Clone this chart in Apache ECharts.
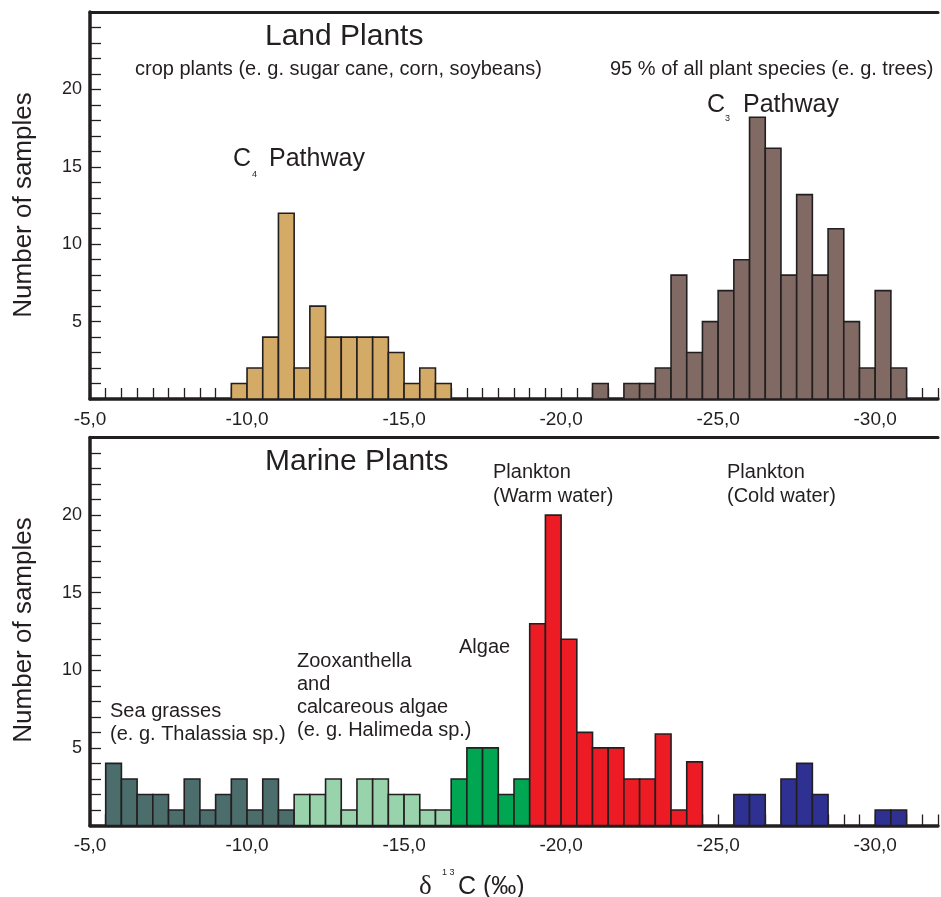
<!DOCTYPE html>
<html><head><meta charset="utf-8">
<script src="https://cdn.jsdelivr.net/npm/echarts@6/dist/echarts.min.js"></script>
<style>html,body{margin:0;padding:0;background:#fff}#c{width:941px;height:897px}</style>
</head><body><div id="c"></div>
<script>
// ---- data (bin = left edge in ‰, each bin 0.5 ‰ wide toward more negative values)
const BIN = 0.5;
const xTickLabels = [-5, -10, -15, -20, -25, -30];
const yTickLabels = [5, 10, 15, 20];

// Land plants
const c4Bins   = [-9.5,-10,-10.5,-11,-11.5,-12,-12.5,-13,-13.5,-14,-14.5,-15,-15.5,-16];
const c4Counts = [1,2,4,12,2,6,4,4,4,4,3,1,2,1];
const c3Bins   = [-21,-21.5,-22,-22.5,-23,-23.5,-24,-24.5,-25,-25.5,-26,-26.5,-27,-27.5,-28,-28.5,-29,-29.5,-30,-30.5];
const c3Counts = [1,0,1,1,2,8,3,5,7,9,18.2,16.2,8,13.2,8,11,5,2,7,2];

// Marine plants
const seaBins     = [-5.5,-6,-6.5,-7,-7.5,-8,-8.5,-9,-9.5,-10,-10.5,-11];
const seaCounts   = [4,3,2,2,1,3,1,2,3,1,3,1];
const zooBins     = [-11.5,-12,-12.5,-13,-13.5,-14,-14.5,-15,-15.5,-16];
const zooCounts   = [2,2,3,1,3,3,2,2,1,1];
const algaeBins   = [-16.5,-17,-17.5,-18,-18.5];
const algaeCounts = [3,5,5,2,3];
const warmBins    = [-19,-19.5,-20,-20.5,-21,-21.5,-22,-22.5,-23,-23.5,-24];
const warmCounts  = [13,20,12,6,5,5,3,3,5.9,1,4.1];
const coldBins    = [-25.5,-26,-27,-27.5,-28,-30,-30.5];
const coldCounts  = [2,2,3,4,2,1,1];

// ---- styling
const FONT = '"Liberation Sans", Arial, Helvetica, sans-serif';
const SERIF = '"Liberation Serif", "Times New Roman", serif';
const INK = '#231f20';

function renderBin(params, api) {
  const x0 = api.value(0), y = api.value(1);
  if (!(y > 0)) return null;
  const p0 = api.coord([x0, 0]);
  const p1 = api.coord([x0 - BIN, y]);
  return {
    type: 'rect',
    shape: { x: Math.min(p0[0], p1[0]), y: p1[1], width: Math.abs(p1[0] - p0[0]), height: p0[1] - p1[1] },
    style: { fill: api.visual('color'), stroke: INK, lineWidth: 1.6 }
  };
}
function hist(name, bins, counts, color, xi, yi) {
  return {
    type: 'custom', name, xAxisIndex: xi, yAxisIndex: yi, renderItem: renderBin,
    itemStyle: { color }, encode: { x: 0, y: 1 }, clip: false,
    data: bins.map((b, i) => [b, counts[i]]), silent: true, z: 5
  };
}

function xFmt(v) {
  const r = Math.round(v * 2) / 2;
  return xTickLabels.indexOf(r) >= 0 ? r.toFixed(1).replace('.', ',') : '';
}
function yFmt(v) { return yTickLabels.indexOf(v) >= 0 ? String(v) : ''; }

function xBottom(gi) {
  return {
    gridIndex: gi, type: 'value', inverse: true, min: -32, max: -5, interval: 0.5, position: 'bottom',
    axisLine: { show: true, onZero: false, lineStyle: { color: INK, width: 3.5 } },
    axisTick: { show: true, inside: true, length: 11, lineStyle: { color: INK, width: 1.3 } },
    axisLabel: { formatter: xFmt, fontSize: 19, color: INK, margin: 11, fontFamily: FONT, showMinLabel: true, showMaxLabel: true },
    splitLine: { show: false }
  };
}
function xTop(gi) {
  return {
    gridIndex: gi, type: 'value', inverse: true, min: -32, max: -5, position: 'top',
    axisLine: { show: true, onZero: false, lineStyle: { color: INK, width: 3 } },
    axisTick: { show: false }, axisLabel: { show: false }, splitLine: { show: false }
  };
}
function yAx(gi) {
  return {
    gridIndex: gi, type: 'value', min: 0, max: 25, interval: 1,
    axisLine: { show: true, onZero: false, lineStyle: { color: INK, width: 3.5 } },
    axisTick: { show: true, inside: true, length: 11, lineStyle: { color: INK, width: 1.3 } },
    axisLabel: { formatter: yFmt, fontSize: 18, color: INK, margin: 8, fontFamily: FONT, showMinLabel: true, showMaxLabel: true },
    splitLine: { show: false }
  };
}

function txt(x, y, text, size, extra) {
  return {
    type: 'text', x, y, silent: true, z: 20,
    style: Object.assign({ text, fontSize: size, fontFamily: FONT, fill: INK, align: 'left', verticalAlign: 'middle' }, extra || {})
  };
}

const graphics = [
  // Top panel
  txt(265, 37, 'Land Plants', 30),
  txt(135, 69, 'crop plants (e. g. sugar cane, corn, soybeans)', 20),
  txt(610, 69, '95 % of all plant species (e. g. trees)', 20),
  txt(233, 159, 'C', 25), txt(252, 175, '4', 9), txt(269, 159, 'Pathway', 25),
  txt(707, 105, 'C', 25), txt(725, 119, '3', 9), txt(743, 105, 'Pathway', 25),
  // Bottom panel
  txt(265, 462, 'Marine Plants', 30),
  txt(493, 472, 'Plankton', 20), txt(493, 496, '(Warm water)', 20),
  txt(727, 472, 'Plankton', 20), txt(727, 496, '(Cold water)', 20),
  txt(459, 647, 'Algae', 20),
  txt(297, 661, 'Zooxanthella', 20), txt(297, 684, 'and', 20),
  txt(297, 707, 'calcareous algae', 20), txt(297, 730, '(e. g. Halimeda sp.)', 20),
  txt(110, 711, 'Sea grasses', 20), txt(110, 734, '(e. g. Thalassia sp.)', 20),
  // axis titles
  txt(419, 887, 'δ', 27, { fontFamily: SERIF }), txt(442, 873, '1 3', 9), txt(458, 887, 'C (‰)', 25),
  Object.assign(txt(24, 205, 'Number of samples', 26, { align: 'center' }), { rotation: Math.PI / 2 }),
  Object.assign(txt(24, 630, 'Number of samples', 26, { align: 'center' }), { rotation: Math.PI / 2 })
];

const chart = echarts.init(document.getElementById('c'), null, { renderer: 'canvas' });
chart.setOption({
  backgroundColor: '#fff',
  animation: false,
  grid: [
    { left: 90, right: 0, top: 12, height: 387 },
    { left: 90, right: 0, top: 437.5, height: 388 }
  ],
  xAxis: [xBottom(0), xTop(0), xBottom(1), xTop(1)],
  yAxis: [yAx(0), yAx(1)],
  series: [
    hist('C4', c4Bins, c4Counts, '#d3ab66', 0, 0),
    hist('C3', c3Bins, c3Counts, '#806a63', 0, 0),
    hist('Sea grasses', seaBins, seaCounts, '#4b6d6c', 2, 1),
    hist('Zooxanthella', zooBins, zooCounts, '#98d3ab', 2, 1),
    hist('Algae', algaeBins, algaeCounts, '#00a651', 2, 1),
    hist('Plankton warm', warmBins, warmCounts, '#ed1c24', 2, 1),
    hist('Plankton cold', coldBins, coldCounts, '#2e3192', 2, 1)
  ],
  graphic: graphics
});
</script>
</body></html>
